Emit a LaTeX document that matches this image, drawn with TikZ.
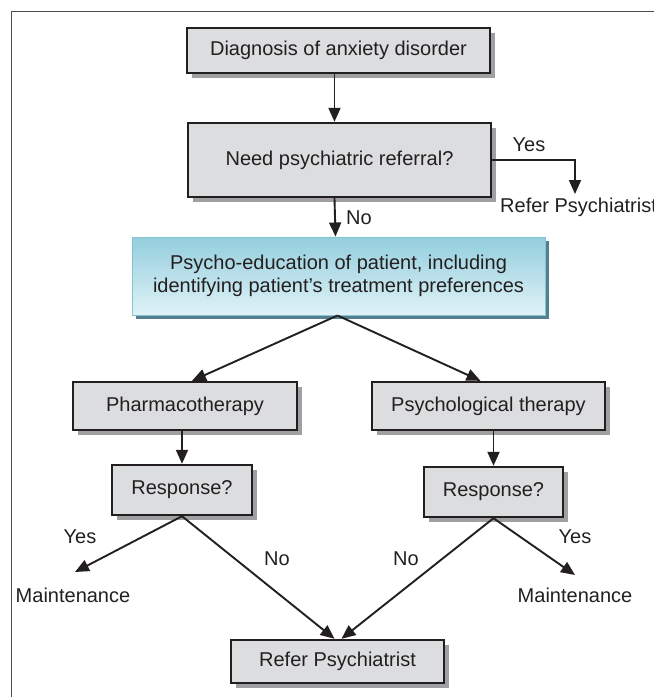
\documentclass[tikz,border=0pt]{standalone}
\usepackage{fontspec}
\setmainfont{Liberation Sans}
\usetikzlibrary{shapes}
\usetikzlibrary{arrows.meta}
\usetikzlibrary{shadows}
\definecolor{gris}{HTML}{DCDDDF}
\definecolor{ombre}{HTML}{A0A0A2}
\definecolor{bleuhaut}{HTML}{93CEDD}
\definecolor{bleubas}{HTML}{E0F2F7}
\definecolor{bleutrait}{HTML}{86C3D3}
\definecolor{ombrebleue}{HTML}{52808E}
\definecolor{encre}{HTML}{231F20}

\begin{document}
\begin{tikzpicture}[x=1pt,y=-1pt,font=\fontsize{20}{23}\selectfont,text=encre]
\tikzstyle{lien}=[-{Triangle[length=14pt,width=12pt]},line width=1.9pt,draw=encre]
\tikzset{etape/.style={draw=encre,line width=2.4pt,fill=gris,minimum height=#1,inner sep=0pt,
drop shadow={shadow xshift=5pt,shadow yshift=-5pt,fill=ombre,opacity=1}},
etape/.default={48pt}}
\useasboundingbox (0,0) rectangle (654,697);
\draw[gray!60!black,line width=1pt] (11,11) rectangle (720,760);
\node [etape=45pt,minimum width=303pt] (diag) at (338.5,50.5) {Diagnosis of anxiety disorder};
\node [etape=74pt,minimum width=303pt] (besoin) at (339.5,160) {Need psychiatric referral?};
\node [draw=bleutrait,line width=1pt,top color=bleuhaut,bottom color=bleubas,
minimum width=413pt,minimum height=78pt,align=center,
drop shadow={shadow xshift=4pt,shadow yshift=-4pt,fill=ombrebleue,opacity=1}] (educ) at (338.5,276)
{Psycho-education of patient, including\\identifying patient’s treatment preferences};
\node [etape,minimum width=224pt] (pharma) at (185,406) {Pharmacotherapy};
\node [etape,minimum width=233pt] (psycho) at (488.5,406) {Psychological therapy};
\node [etape=50pt,minimum width=140pt] (rep1) at (182,490) {Response?};
\node [etape=50pt,minimum width=139pt] (rep2) at (493.5,492) {Response?};
\node [etape=43pt,minimum width=213pt] (refer) at (337.5,661.5) {Refer Psychiatrist};
\node [anchor=west,inner sep=0pt] (referA) at (500,207) {Refer Psychiatrist};
\node (maintG) at (73,595) {Maintenance};
\node (maintD) at (575,595) {Maintenance};
\node (oui0) at (529,145) {Yes};
\node (non0) at (359,218) {No};
\node (oui1) at (80,537) {Yes};
\node (non1) at (277,559) {No};
\node (non2) at (406,559) {No};
\node (oui2) at (575,537) {Yes};
\coordinate (pA) at (575,194);
\coordinate (pG) at (75,572);
\coordinate (pD) at (575,575);
\draw [lien] ([xshift=-4pt]diag.south) -- ([xshift=-5pt]besoin.north);
\draw [lien] (besoin.east) -| (pA);
\draw [lien] ([xshift=-5pt]besoin.south) -- ([xshift=-3pt]educ.north);
\draw [lien] ([xshift=-1pt]educ.south) -- ([xshift=7pt]pharma.north);
\draw [lien] ([xshift=-1pt]educ.south) -- ([xshift=-8pt]psycho.north);
\draw [lien] (rep1.north |- pharma.south) -- (rep1.north);
\draw [lien] (rep2.north |- psycho.south) -- (rep2.north);
\draw [lien] (rep1.south) -- (pG);
\draw [lien] (rep1.south) -- ([xshift=-3pt]refer.north);
\draw [lien] (rep2.south) -- ([xshift=4pt]refer.north);
\draw [lien] (rep2.south) -- (pD);
\end{tikzpicture}
\end{document}
